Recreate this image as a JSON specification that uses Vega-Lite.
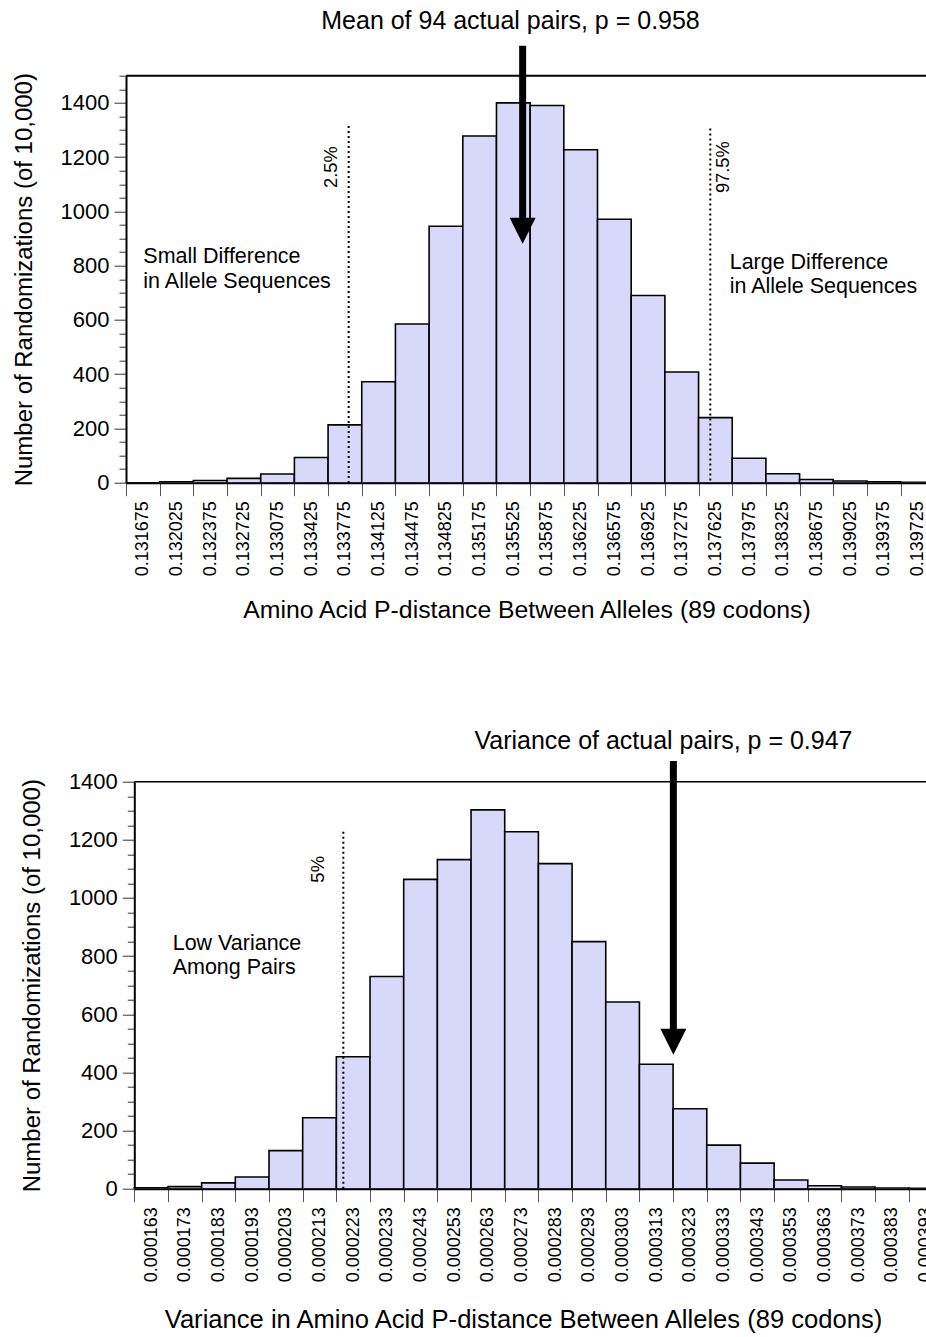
{
  "$schema": "https://vega.github.io/schema/vega-lite/v6.json",
  "background": "white",
  "padding": {"left": 12, "top": 8.7, "right": 0, "bottom": 0},
  "bounds": "flush",
  "spacing": 299,
  "config": {
    "font": "Liberation Sans",
    "view": {"stroke": null},
    "axis": {"grid": false, "labelColor": "black", "titleColor": "black", "titleFontWeight": "normal", "domainColor": "black", "labelFlush": false, "labelOverlap": false, "labelBound": false}
  },
  "datasets": {
    "mean": [
      {"lo": 0.1315, "hi": 0.13185, "count": 0},
      {"lo": 0.13185, "hi": 0.1322, "count": 3},
      {"lo": 0.1322, "hi": 0.13255, "count": 8},
      {"lo": 0.13255, "hi": 0.1329, "count": 16},
      {"lo": 0.1329, "hi": 0.13325, "count": 32},
      {"lo": 0.13325, "hi": 0.1336, "count": 93},
      {"lo": 0.1336, "hi": 0.13395, "count": 213},
      {"lo": 0.13395, "hi": 0.1343, "count": 372},
      {"lo": 0.1343, "hi": 0.13465, "count": 585},
      {"lo": 0.13465, "hi": 0.135, "count": 945},
      {"lo": 0.135, "hi": 0.13535, "count": 1278},
      {"lo": 0.13535, "hi": 0.1357, "count": 1400},
      {"lo": 0.1357, "hi": 0.13605, "count": 1390},
      {"lo": 0.13605, "hi": 0.1364, "count": 1227},
      {"lo": 0.1364, "hi": 0.13675, "count": 971},
      {"lo": 0.13675, "hi": 0.1371, "count": 690},
      {"lo": 0.1371, "hi": 0.13745, "count": 408},
      {"lo": 0.13745, "hi": 0.1378, "count": 240},
      {"lo": 0.1378, "hi": 0.13815, "count": 90},
      {"lo": 0.13815, "hi": 0.1385, "count": 33},
      {"lo": 0.1385, "hi": 0.13885, "count": 12},
      {"lo": 0.13885, "hi": 0.1392, "count": 6},
      {"lo": 0.1392, "hi": 0.13955, "count": 3},
      {"lo": 0.13955, "hi": 0.1399, "count": 1}
    ],
    "variance": [
      {"lo": 0.000158, "hi": 0.000168, "count": 3},
      {"lo": 0.000168, "hi": 0.000178, "count": 7},
      {"lo": 0.000178, "hi": 0.000188, "count": 20},
      {"lo": 0.000188, "hi": 0.000198, "count": 40},
      {"lo": 0.000198, "hi": 0.000208, "count": 131},
      {"lo": 0.000208, "hi": 0.000218, "count": 244},
      {"lo": 0.000218, "hi": 0.000228, "count": 454},
      {"lo": 0.000228, "hi": 0.000238, "count": 730},
      {"lo": 0.000238, "hi": 0.000248, "count": 1064},
      {"lo": 0.000248, "hi": 0.000258, "count": 1132},
      {"lo": 0.000258, "hi": 0.000268, "count": 1303},
      {"lo": 0.000268, "hi": 0.000278, "count": 1228},
      {"lo": 0.000278, "hi": 0.000288, "count": 1118},
      {"lo": 0.000288, "hi": 0.000298, "count": 850},
      {"lo": 0.000298, "hi": 0.000308, "count": 642},
      {"lo": 0.000308, "hi": 0.000318, "count": 428},
      {"lo": 0.000318, "hi": 0.000328, "count": 275},
      {"lo": 0.000328, "hi": 0.000338, "count": 150},
      {"lo": 0.000338, "hi": 0.000348, "count": 88},
      {"lo": 0.000348, "hi": 0.000358, "count": 30},
      {"lo": 0.000358, "hi": 0.000368, "count": 10},
      {"lo": 0.000368, "hi": 0.000378, "count": 6},
      {"lo": 0.000378, "hi": 0.000388, "count": 2},
      {"lo": 0.000388, "hi": 0.000398, "count": 1}
    ]
  },
  "vconcat": [
    {
      "width": 801,
      "height": 407,
      "layer": [
        {
          "data": {"name": "mean"},
          "mark": {"type": "bar", "fill": "#d8d8fa", "stroke": "black", "strokeWidth": 1.6, "clip": true},
          "encoding": {
            "x": {
              "field": "lo", "type": "quantitative",
              "scale": {"domain": [0.1315, 0.139824], "nice": false, "zero": false},
              "title": "Amino Acid P-distance Between Alleles (89 codons)",
              "axis": {
                "tickCount": 500,
                "values": [0.1315, 0.131675, 0.13185, 0.132025, 0.1322, 0.132375, 0.13255, 0.132725, 0.1329, 0.133075, 0.13325, 0.133425, 0.1336, 0.133775, 0.13395, 0.134125, 0.1343, 0.134475, 0.13465, 0.134825, 0.135, 0.135175, 0.13535, 0.135525, 0.1357, 0.135875, 0.13605, 0.136225, 0.1364, 0.136575, 0.13675, 0.136925, 0.1371, 0.137275, 0.13745, 0.137625, 0.1378, 0.137975, 0.13815, 0.138325, 0.1385, 0.138675, 0.13885, 0.139025, 0.1392, 0.139375, 0.13955, 0.139725],
                "labelExpr": "round(datum.value*1e6) % 50 == 25 ? format(datum.value, '.6f') : ''",
                "tickOpacity": {"condition": {"test": "round(datum.value*1e6) % 50 == 25", "value": 0}, "value": 1},
                "tickSize": 13, "tickColor": "#555", "tickWidth": 1,
                "domainWidth": 2,
                "labelAngle": 270, "labelAlign": "right", "labelBaseline": "middle",
                "labelOverlap": false,
                "labelFontSize": 18, "labelPadding": 5,
                "titleFontSize": 24.8, "titlePadding": 22
              }
            },
            "x2": {"field": "hi"},
            "y": {
              "field": "count", "type": "quantitative",
              "scale": {"domain": [0, 1500], "nice": false},
              "title": "Number of Randomizations (of 10,000)",
              "axis": {
                "tickCount": 500,
                "format": "d",
                "values": [0, 50, 100, 150, 200, 250, 300, 350, 400, 450, 500, 550, 600, 650, 700, 750, 800, 850, 900, 950, 1000, 1050, 1100, 1150, 1200, 1250, 1300, 1350, 1400, 1450, 1500],
                "labelExpr": "datum.value % 200 == 0 && datum.value <= 1400 ? datum.label : ''",
                "tickSize": {"condition": {"test": "datum.value % 200 == 0", "value": 12}, "value": 7},
                "tickColor": "#333", "tickWidth": 1,
                "domainWidth": 2,
                "labelOverlap": false,
                "labelFontSize": 22, "labelPadding": 5,
                "titleFontSize": 24, "titlePadding": 24
              }
            },
            "y2": {"datum": 0}
          }
        },
        {
          "data": {"values": [{}]},
          "mark": {"type": "rule", "strokeWidth": 2, "color": "black"},
          "encoding": {"y": {"datum": 1500}}
        },
        {
          "data": {"values": [{}]},
          "mark": {"type": "rule", "strokeWidth": 2, "strokeDash": [2, 3], "color": "black"},
          "encoding": {"x": {"datum": 0.133814}, "y": {"datum": 1315}, "y2": {"datum": 0}}
        },
        {
          "data": {"values": [{}]},
          "mark": {"type": "rule", "strokeWidth": 2, "strokeDash": [2, 3], "color": "black"},
          "encoding": {"x": {"datum": 0.137572}, "y": {"datum": 1305}, "y2": {"datum": 0}}
        },
        {
          "data": {"values": [{}]},
          "mark": {"type": "text", "fontSize": 18.3, "angle": 270, "align": "center", "baseline": "middle", "text": "2.5%", "color": "black"},
          "encoding": {"x": {"datum": 0.13364}, "y": {"datum": 1163}}
        },
        {
          "data": {"values": [{}]},
          "mark": {"type": "text", "fontSize": 18.3, "angle": 270, "align": "center", "baseline": "middle", "text": "97.5%", "color": "black"},
          "encoding": {"x": {"datum": 0.1377175}, "y": {"datum": 1163}}
        },
        {
          "data": {"values": [{}]},
          "mark": {"type": "text", "fontSize": 21.5, "align": "left", "baseline": "alphabetic", "lineHeight": 25, "text": ["Small Difference", "in Allele Sequences"], "color": "black"},
          "encoding": {"x": {"datum": 0.13168}, "y": {"datum": 811}}
        },
        {
          "data": {"values": [{}]},
          "mark": {"type": "text", "fontSize": 21.5, "align": "left", "baseline": "alphabetic", "lineHeight": 24, "text": ["Large Difference", "in Allele Sequences"], "color": "black"},
          "encoding": {"x": {"datum": 0.1377735}, "y": {"datum": 786.6}}
        },
        {
          "data": {"values": [{}]},
          "mark": {"type": "rule", "strokeWidth": 7, "strokeCap": "butt", "color": "black"},
          "encoding": {"x": {"datum": 0.135622}, "y": {"datum": 1610}, "y2": {"datum": 940}}
        },
        {
          "data": {"values": [{}]},
          "mark": {"type": "point", "shape": "M-1,-1L1,-1L0,1Z", "filled": true, "color": "black", "size": 676, "opacity": 1, "strokeWidth": 0},
          "encoding": {"x": {"datum": 0.135622}, "y": {"datum": 929}}
        },
        {
          "data": {"values": [{}]},
          "mark": {"type": "text", "fontSize": 25, "align": "center", "baseline": "alphabetic", "text": "Mean of 94 actual pairs, p = 0.958", "color": "black"},
          "encoding": {"x": {"datum": 0.135496}, "y": {"datum": 1672}}
        }
      ]
    },
    {
      "width": 801,
      "height": 407,
      "layer": [
        {
          "data": {"name": "variance"},
          "mark": {"type": "bar", "fill": "#d8d8fa", "stroke": "black", "strokeWidth": 1.6, "clip": true},
          "encoding": {
            "x": {
              "field": "lo", "type": "quantitative",
              "scale": {"domain": [0.000158, 0.0003934], "range": [8.3, 801], "nice": false, "zero": false},
              "title": "Variance in Amino Acid P-distance Between Alleles (89 codons)",
              "axis": {
                "tickCount": 500,
                "values": [0.000158, 0.000163, 0.000168, 0.000173, 0.000178, 0.000183, 0.000188, 0.000193, 0.000198, 0.000203, 0.000208, 0.000213, 0.000218, 0.000223, 0.000228, 0.000233, 0.000238, 0.000243, 0.000248, 0.000253, 0.000258, 0.000263, 0.000268, 0.000273, 0.000278, 0.000283, 0.000288, 0.000293, 0.000298, 0.000303, 0.000308, 0.000313, 0.000318, 0.000323, 0.000328, 0.000333, 0.000338, 0.000343, 0.000348, 0.000353, 0.000358, 0.000363, 0.000368, 0.000373, 0.000378, 0.000383, 0.000388, 0.000393],
                "labelExpr": "round(datum.value*1e6) % 10 == 3 ? format(datum.value, '.6f') : ''",
                "tickOpacity": {"condition": {"test": "round(datum.value*1e6) % 10 == 3", "value": 0}, "value": 1},
                "tickSize": 13, "tickColor": "#555", "tickWidth": 1,
                "domainWidth": 2,
                "labelAngle": 270, "labelAlign": "right", "labelBaseline": "middle",
                "labelOverlap": false,
                "labelFontSize": 18, "labelPadding": 5,
                "titleFontSize": 25.6, "titlePadding": 26, "titleX": 397
              }
            },
            "x2": {"field": "hi"},
            "y": {
              "field": "count", "type": "quantitative",
              "scale": {"domain": [0, 1400], "nice": false},
              "title": "Number of Randomizations (of 10,000)",
              "axis": {
                "tickCount": 500,
                "format": "d",
                "offset": -8.3,
                "values": [0, 50, 100, 150, 200, 250, 300, 350, 400, 450, 500, 550, 600, 650, 700, 750, 800, 850, 900, 950, 1000, 1050, 1100, 1150, 1200, 1250, 1300, 1350, 1400],
                "labelExpr": "datum.value % 200 == 0 ? datum.label : ''",
                "tickSize": {"condition": {"test": "datum.value % 200 == 0", "value": 12}, "value": 7},
                "tickColor": "#333", "tickWidth": 1,
                "domainWidth": 2,
                "labelOverlap": false,
                "labelFontSize": 22, "labelPadding": 5,
                "titleFontSize": 24, "titlePadding": 24
              }
            },
            "y2": {"datum": 0}
          }
        },
        {
          "data": {"values": [{}]},
          "mark": {"type": "rule", "strokeWidth": 1.5, "color": "black"},
          "encoding": {"x": {"datum": 0.000158}, "x2": {"datum": 0.0003934}, "y": {"datum": 1400}}
        },
        {
          "data": {"values": [{}]},
          "mark": {"type": "rule", "strokeWidth": 2, "strokeDash": [2, 3], "color": "black"},
          "encoding": {"x": {"datum": 0.00022007}, "y": {"datum": 1228}, "y2": {"datum": 0}}
        },
        {
          "data": {"values": [{}]},
          "mark": {"type": "text", "fontSize": 18.5, "angle": 270, "align": "center", "baseline": "middle", "text": "5%", "color": "black"},
          "encoding": {"x": {"datum": 0.00021247}, "y": {"datum": 1098.7}}
        },
        {
          "data": {"values": [{}]},
          "mark": {"type": "text", "fontSize": 21.5, "align": "left", "baseline": "alphabetic", "lineHeight": 24, "text": ["Low Variance", "Among Pairs"], "color": "black"},
          "encoding": {"x": {"datum": 0.0001694}, "y": {"datum": 820}}
        },
        {
          "data": {"values": [{}]},
          "mark": {"type": "rule", "strokeWidth": 7, "strokeCap": "butt", "color": "black"},
          "encoding": {"x": {"datum": 0.00031808}, "y": {"datum": 1471}, "y2": {"datum": 530}}
        },
        {
          "data": {"values": [{}]},
          "mark": {"type": "point", "shape": "M-1,-1L1,-1L0,1Z", "filled": true, "color": "black", "size": 676, "opacity": 1, "strokeWidth": 0},
          "encoding": {"x": {"datum": 0.00031808}, "y": {"datum": 505.3}}
        },
        {
          "data": {"values": [{}]},
          "mark": {"type": "text", "fontSize": 25, "align": "center", "baseline": "alphabetic", "text": "Variance of actual pairs, p = 0.947", "color": "black"},
          "encoding": {"x": {"datum": 0.00031514}, "y": {"datum": 1512}}
        }
      ]
    }
  ]
}
